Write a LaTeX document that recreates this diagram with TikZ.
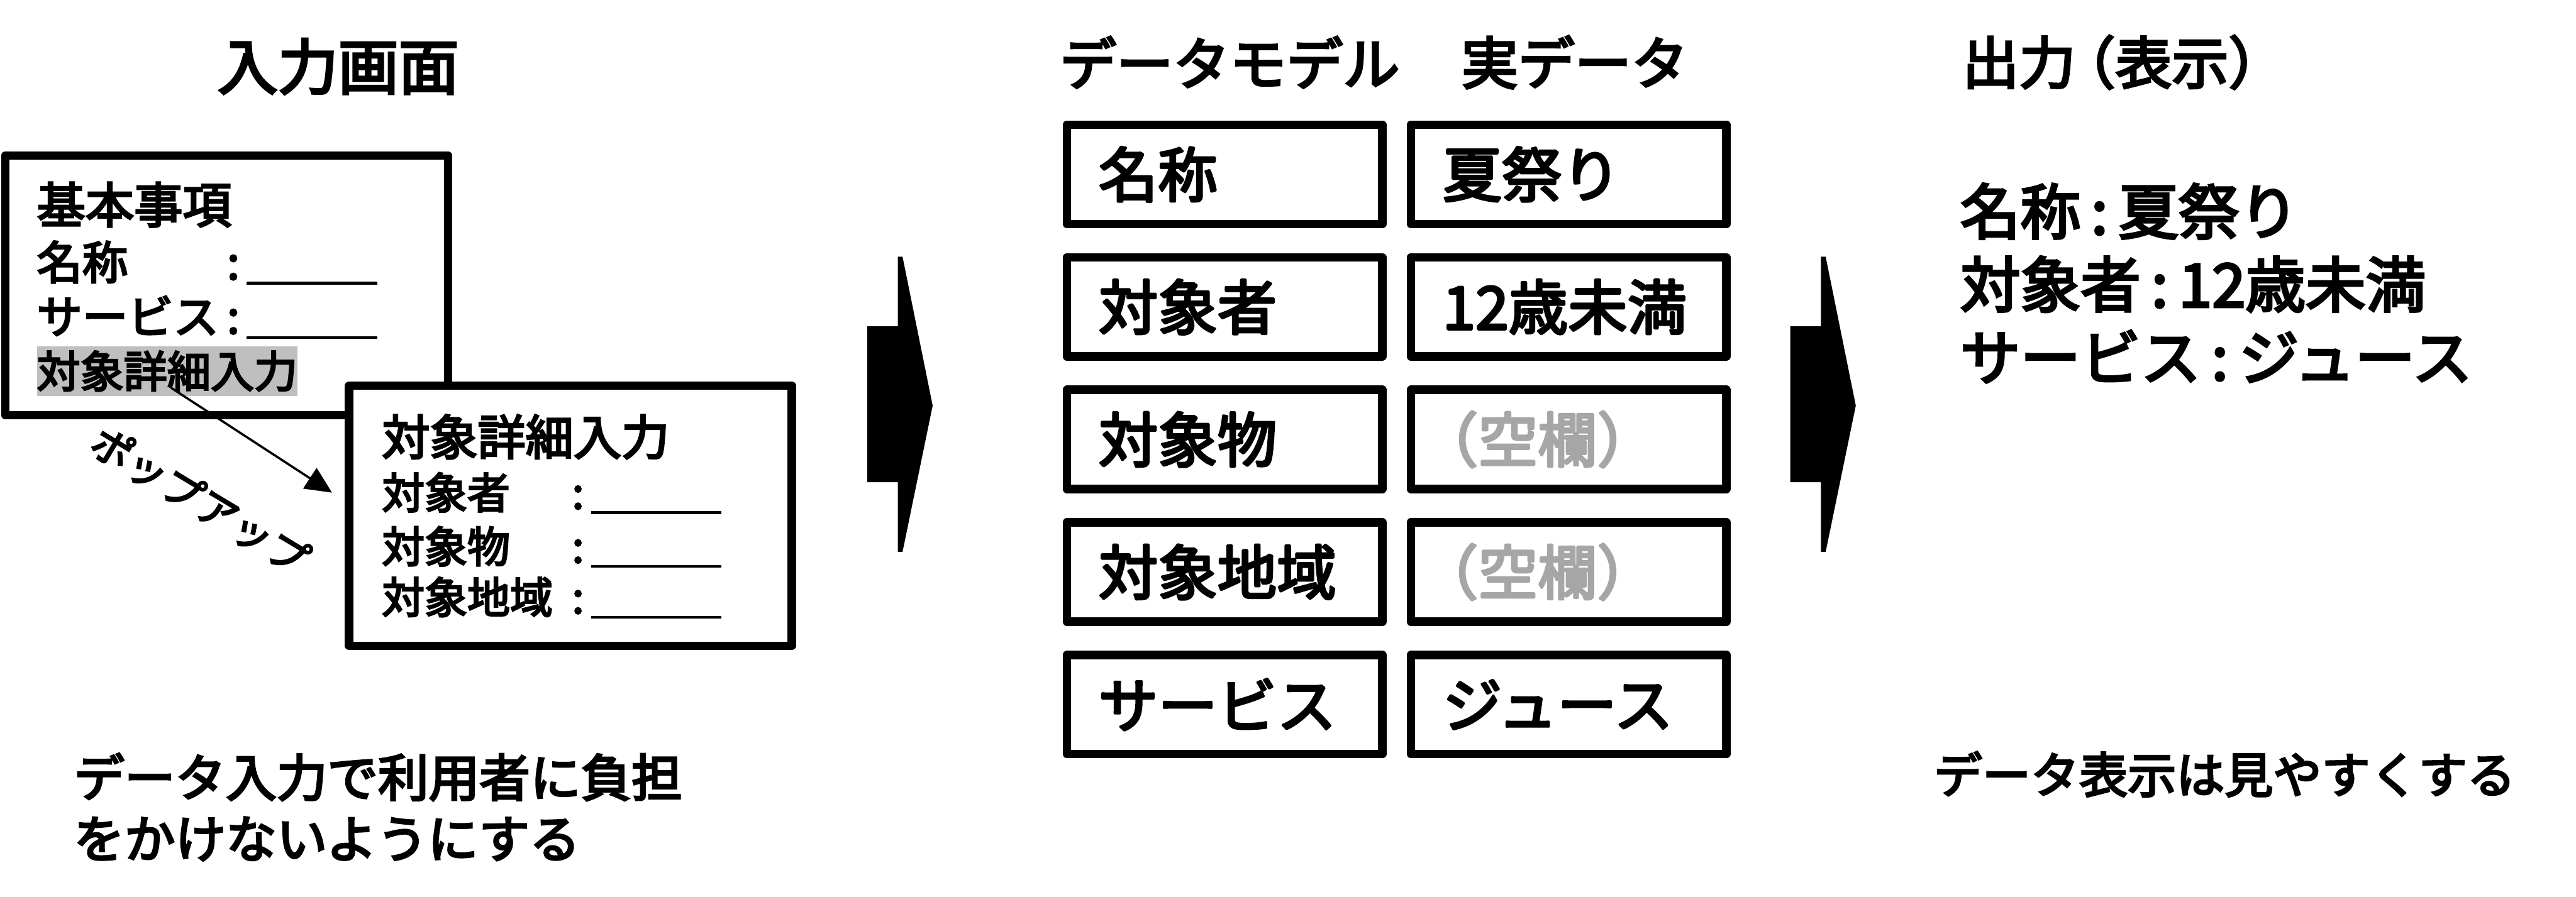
\documentclass[tikz,border=0pt]{standalone}
\usepackage{fontspec}
\setmainfont{Noto Sans CJK JP}[FakeBold=4]
\usetikzlibrary{arrows.meta,positioning,calc}
\definecolor{ink}{HTML}{000000}
\definecolor{hilite}{HTML}{BFBFBF}
\definecolor{blank}{HTML}{A6A6A6}
\newcommand{\formfield}[1]{\makebox[3.6cm][l]{#1}:\hspace{0.13cm}\rule[-0.1cm]{2.47cm}{0.05cm}}
\newcommand{\kvsep}{\hspace{0.2cm}:\hspace{0.2cm}}
\tikzset{
  window/.style={draw=ink,fill=white,line width=4.5pt,line join=round,minimum width=8.38cm,minimum height=4.92cm,inner sep=0pt},
  formtext/.style={anchor=west,inner sep=0pt,font=\fontsize{#1}{#1}\selectfont},
  formtext/.default=24.5pt,
  heading/.style={inner sep=0pt,font=\fontsize{#1}{#1}\selectfont},
  heading/.default=30.5pt,
  cell/.style={draw=ink,line width=4.5pt,line join=round,outer sep=0pt,minimum height=1.88cm,text width=4.77cm,inner xsep=0.6cm,inner ysep=0pt,align=left,font=\fontsize{32pt}{32pt}\selectfont},
  popflow/.style={-{Triangle[length=0.5cm,width=0.46cm]},line width=1.2pt,draw=ink,shorten >=0.29cm},
  note/.style={anchor=west,inner sep=0pt,align=left}
}
\begin{document}
\begin{tikzpicture}
  \useasboundingbox (0,0) rectangle (48.75,-16.98);
  % input screen
  \node[heading=32.5pt] (intitle) at (6.40,-1.26) {入力画面};
  \node[window] (base) at (4.29,-5.405) {};
  \node[formtext=26.2pt] (basic) at (0.69,-3.875) {基本事項};
  \node[formtext] (bname) at (0.69,-4.975) {\formfield{名称}};
  \node[formtext] (bservice) at (0.69,-6.01) {\formfield{サービス}};
  \node[formtext=23.4pt,fill=hilite,inner ysep=0.09cm] (bdetail) at (0.69,-7.025) {対象詳細入力};

  \node[window] (pop) at (10.795,-9.765) {};
  \node[formtext=25.8pt] (ptitle) at (7.22,-8.27) {対象詳細入力};
  \node[formtext=23pt] (ptarget) at (7.22,-9.34) {\formfield{対象者}};
  \node[formtext=23pt] (pobject) at (7.22,-10.36) {\formfield{対象物}};
  \node[formtext=23pt] (parea) at (7.22,-11.32) {\formfield{対象地域}};

  \draw[popflow] ($(bdetail.south)+(0.075,0.16)$) -- ($(pop.north west)!0.445!(pop.south west)$);
  \node[formtext=22pt,anchor=center,rotate=-31] (poplabel) at (3.79,-9.475) {ポップアップ};

  \node[note,font=\fontsize{27.3pt}{33pt}\selectfont] (innote) at (1.39,-15.28) {データ入力で利用者に負担\\をかけないようにする};

  % block arrows
  \foreach \x in {16.41,33.88}
    \fill[ink] (\x,-6.18) -- ++(0.58,0) -- ++(0,1.32) -- ++(0.09,0) -- ++(0.57,-2.82)
      -- ++(-0.57,-2.77) -- ++(-0.09,0) -- ++(0,1.32) -- ++(-0.58,0) -- cycle;

  % data model
  \node[heading,anchor=west] (modelhead) at (20.05,-1.18) {データモデル};
  \node[heading,anchor=west] (realhead) at (27.65,-1.18) {実データ};
  \node[cell] (mname) at (23.175,-3.30) {名称};
  \node[cell,below=0.63cm of mname] (mtarget) {対象者};
  \node[cell,below=0.63cm of mtarget] (mobject) {対象物};
  \node[cell,below=0.63cm of mobject] (marea) {対象地域};
  \node[cell,below=0.63cm of marea] (mservice) {サービス};
  \node[cell,right=0.54cm of mname] (vname) {夏祭り};
  \node[cell,right=0.54cm of mtarget] (vtarget) {12歳未満};
  \node[cell,text=blank,right=0.54cm of mobject] (vobject) {\hspace*{-0.4em}（空欄）};
  \node[cell,text=blank,right=0.54cm of marea] (varea) {\hspace*{-0.4em}（空欄）};
  \node[cell,right=0.54cm of mservice] (vservice) {ジュース};

  % output
  \node[heading,anchor=west] (outhead) at (37.13,-1.18) {出力\hspace{-0.3em}（表示）};
  \node[note,font=\fontsize{32.4pt}{39.3pt}\selectfont] (outtext) at (37.09,-5.36) {名称\kvsep 夏祭り\\対象者\kvsep 12歳未満\\サービス\kvsep ジュース};
  \node[note,font=\fontsize{26.1pt}{31pt}\selectfont] (outnote) at (36.59,-14.66) {データ表示は見やすくする};
\end{tikzpicture}
\end{document}
